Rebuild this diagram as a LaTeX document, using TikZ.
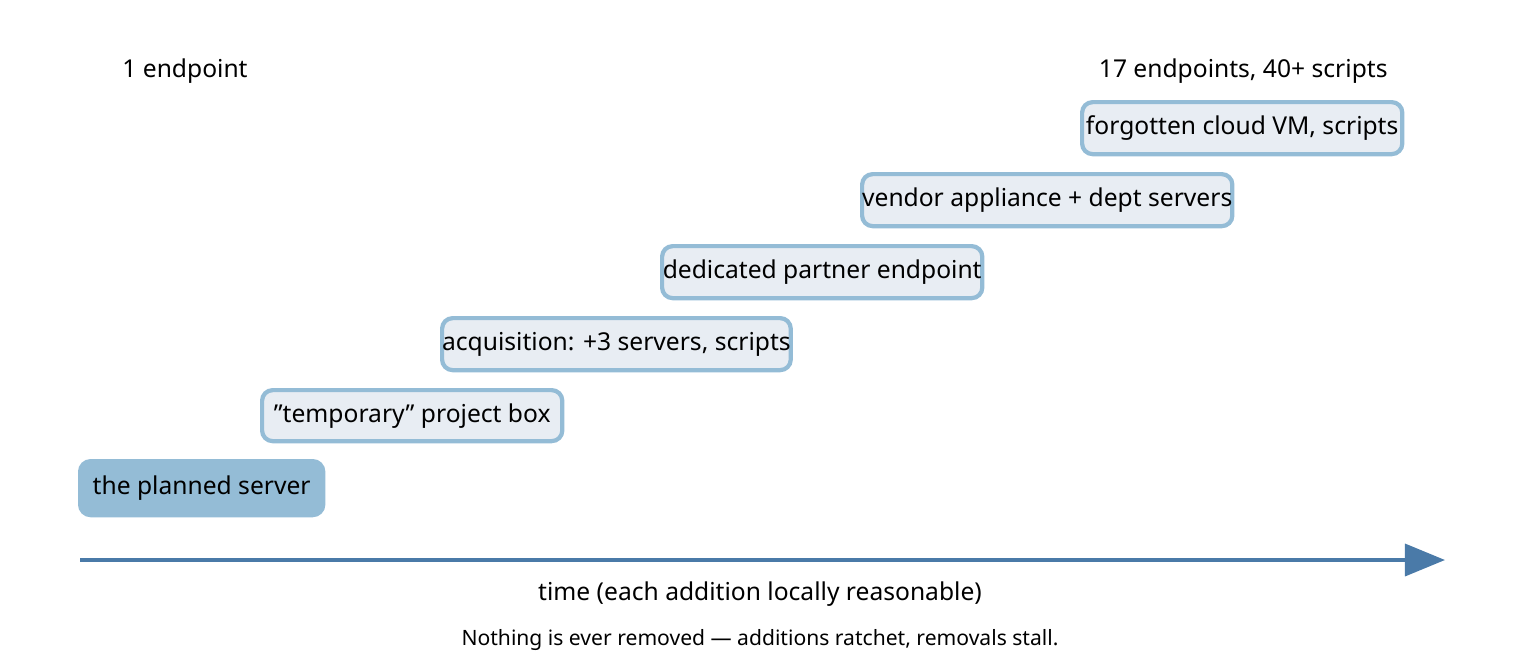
\documentclass[tikz,border=0pt]{standalone}
\usepackage{fontspec}
\setmainfont{Noto Sans}
\usetikzlibrary{arrows.meta}
\definecolor{boxline}{HTML}{94BCD6}
\definecolor{boxfill}{HTML}{E8EDF3}
\definecolor{axis}{HTML}{4A7AA8}
\begin{document}
\begin{tikzpicture}[x=0.01cm, y=-0.01cm,
		stage/.style={rectangle, rounded corners=3pt, draw=boxline, line width=1.2pt, fill=boxfill, inner sep=0pt, font=\fontsize{7}{8}\selectfont, anchor=north west},
		first/.style={stage, fill=boxline},
		head/.style={font=\fontsize{7}{8}\selectfont\bfseries}]
		\useasboundingbox (0, 0) rectangle (1520, 660);

		\draw
		(185, 71) node [head] (few) {1 endpoint}
		(1400, 71) node [head, anchor=east] (many) {17 endpoints, 40+ scripts};

		\draw
		(78, 459) node [first, minimum width=2.43cm, minimum height=0.54cm] (S1) {the planned server}
		(260, 388) node [stage, minimum width=3cm, minimum height=0.51cm] (S2) {"temporary" project box}
		(440, 316) node [stage, minimum width=3.4cm, minimum height=0.52cm] (S3) {acquisition: +3 servers, scripts}
		(660, 244) node [stage, minimum width=3.2cm, minimum height=0.52cm] (S4) {dedicated partner endpoint}
		(860, 172) node [stage, minimum width=3.6cm, minimum height=0.52cm] (S5) {vendor appliance + dept servers}
		(1080, 100) node [stage, minimum width=3.2cm, minimum height=0.52cm] (S6) {forgotten cloud VM, scripts};

		\coordinate (t0) at (80, 560);
		\coordinate (t1) at (1445, 560);
		\draw[axis, line width=1pt, -{Triangle[length=0.4cm, width=0.32cm]}] (t0) -- (t1);

		\draw
		(760, 594) node [font=\fontsize{7}{8}\selectfont] (time) {time (each addition locally reasonable)}
		(760, 640) node [font=\fontsize{6}{7}\selectfont] (note) {Nothing is ever removed — additions ratchet, removals stall.};
	\end{tikzpicture}
\end{document}
